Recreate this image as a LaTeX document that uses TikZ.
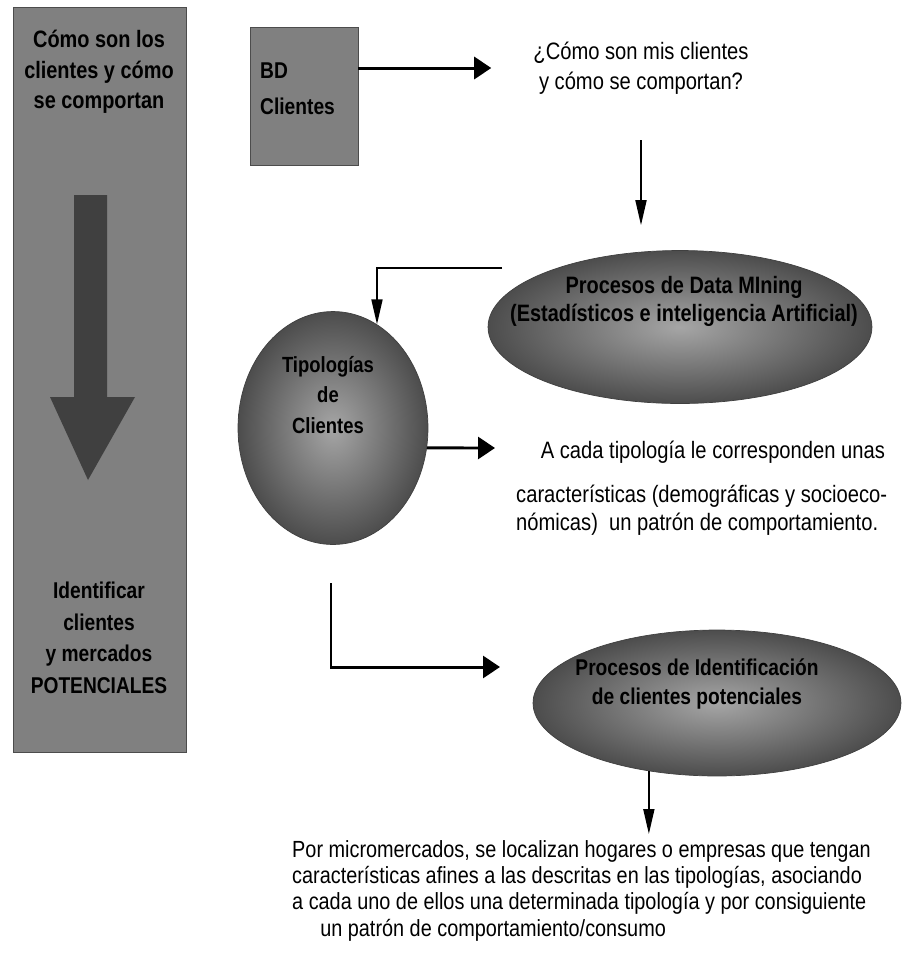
\documentclass[tikz,border=0pt]{standalone}
\usepackage{fontspec}
\setmainfont{Liberation Sans}[FakeStretch=0.85]
\newfontfamily\panelfont{Liberation Sans}[FakeStretch=0.84]
\usetikzlibrary{arrows.meta,positioning,shapes.geometric,calc}

\tikzset{
  caja/.style={draw=black!70, fill=black!50, inner sep=0pt},
  elipse/.style={ellipse, draw=black!75, shading=radial, inner color=black!35, outer color=black!70, inner sep=0pt},
  texto/.style={font=\fontsize{13.3}{15.5}\selectfont, align=center},
  rotulo/.style={font=\panelfont\bfseries\fontsize{13.5}{17.5}\selectfont, align=center, text=black},
  flecha/.style={-{Triangle[length=0.34cm,width=0.44cm]}, line width=1.7pt},
  fina/.style={-{Triangle[length=0.5cm,width=0.22cm]}, line width=1pt}
}

\begin{document}
\begin{tikzpicture}[x=0.02cm,y=-0.02cm]
  \useasboundingbox (0,0) rectangle (902,965);

  \node[caja, minimum width=3.46cm, minimum height=14.9cm] (Panel) at (99.5,379.5) {};
  \node[rotulo] (PanelA) at (99,72) {Cómo son los\\clientes y cómo\\se comportan};
  \fill[black!75] (74,195) -- (107,195) -- (107,397) -- (135,397) -- (88,480) -- (50,397) -- (74,397) -- cycle;
  \node[rotulo, font=\panelfont\bfseries\fontsize{13}{18}\selectfont] (PanelB) at (99,638) {Identificar\\clientes\\y mercados\\POTENCIALES};

  \node[caja, minimum width=2.16cm, minimum height=2.76cm] (BD) at (304,96) {};
  \node[rotulo, align=left, anchor=west, font=\panelfont\bfseries\fontsize{13}{17.5}\selectfont] (BDtxt) at (254,89) {BD\\[3pt]Clientes};
  \node[texto, font=\fontsize{13.5}{17}\selectfont] (Preg) at (641,68) {¿Cómo son mis clientes\\y cómo se comportan?};

  \node[elipse, minimum width=7.68cm, minimum height=3.06cm] (DM) at (680,327) {};
  \node[rotulo, font=\panelfont\bfseries\fontsize{13.5}{16}\selectfont] (DMtxt) at (684,301) {Procesos de Data MIning\\(Estadísticos e inteligencia Artificial)};

  \node[elipse, minimum width=3.8cm, minimum height=4.66cm] (Tipo) at (333,428) {};
  \node[rotulo, font=\panelfont\bfseries\fontsize{12.5}{17.5}\selectfont] (Tipotxt) at (328,395) {Tipologías\\de\\Clientes};

  \node[texto, align=left, anchor=north west, font=\fontsize{13.5}{16}\selectfont] (Desc) at (510,435) {\hspace*{14pt}A cada tipología le corresponden unas\\[9pt]características (demográficas y socioeco-\\nómicas)\ \ un patrón de comportamiento.};

  \node[elipse, minimum width=7.36cm, minimum height=2.92cm] (Ident) at (717,703) {};
  \node[rotulo, font=\panelfont\bfseries\fontsize{13}{16}\selectfont] (Identtxt) at (697,684) {Procesos de Identificación\\de clientes potenciales};

  \node[texto, align=left, anchor=north west, font=\fontsize{13.3}{15}\selectfont] (Micro) at (286,834) {Por micromercados, se localizan hogares o empresas que tengan\\características afines a las descritas en las tipologías, asociando\\a cada uno de ellos una determinada tipología y por consiguiente\\\hspace*{16pt}un patrón de comportamiento/consumo};

  \coordinate (DMsal) at (502,268);
  \coordinate (Tder) at (495,448);
  \coordinate (Tbaj) at (331,583);
  \coordinate (Ient) at (500,667);

  \draw[flecha] (BD.east |- Preg.west) -- ([xshift=-0.72cm]Preg.west);
  \draw[fina] ([yshift=-0.8cm]Preg.south) -- ([yshift=0.5cm]Preg.south |- DM.north);
  \draw[fina] (DMsal) -| (Tipo.67);
  \draw[flecha] (Tipo.-12) -- (Tder);
  \draw[flecha] (Tbaj) |- (Ient);
  \draw[fina] (Ident.225) -- (Ident.225 |- Micro.north);
\end{tikzpicture}
\end{document}
